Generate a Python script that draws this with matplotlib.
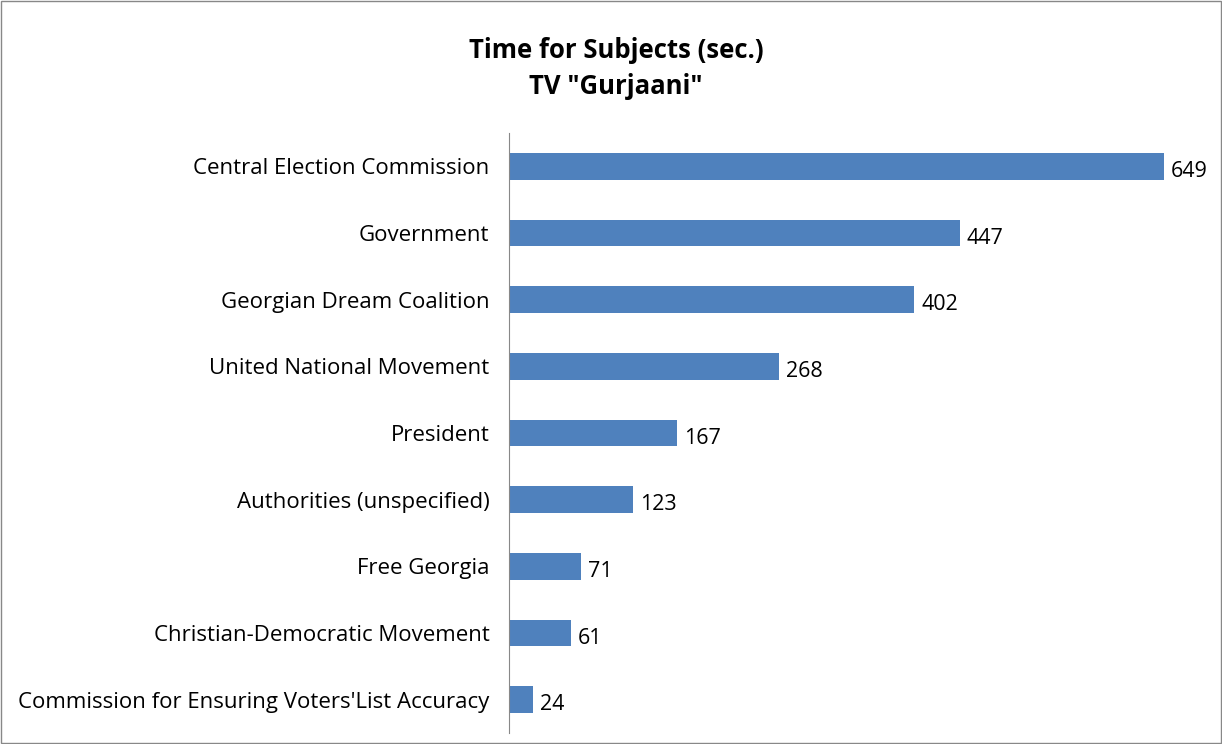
import matplotlib.pyplot as plt
from matplotlib.patches import Rectangle

plt.rcParams['font.family'] = ['Open Sans', 'DejaVu Sans']

subjects = ["Central Election Commission", "Government", "Georgian Dream Coalition",
            "United National Movement", "President", "Authorities (unspecified)",
            "Free Georgia", "Christian-Democratic Movement",
            "Commission for Ensuring Voters'List Accuracy"]
seconds = [649, 447, 402, 268, 167, 123, 71, 61, 24]

fig = plt.figure(figsize=(12.22, 7.44), dpi=100)
ax = fig.add_axes([509/1222, 11/744, 706/1222, 600/744])

y = list(range(len(subjects)))
ax.barh(y, seconds, height=0.4, color='#4F81BD')
for yi, v in zip(y, seconds):
    ax.text(v + 7, yi + 0.08, str(v), va='center', ha='left', fontsize=15.5)

ax.set_yticks(y)
ax.set_yticklabels(subjects, fontsize=16)
ax.set_ylim(len(subjects) - 0.5, -0.5)
ax.set_xlim(0, 700)
ax.set_xticks([])
ax.tick_params(axis='y', length=0, pad=14)
for s in ['top', 'right', 'bottom']:
    ax.spines[s].set_visible(False)
ax.spines['left'].set_color('#888888')

fig.text(0.504, 1 - 50/744, 'Time for Subjects (sec.)', ha='center', va='center',
         fontsize=18.5, fontweight='bold')
fig.text(0.504, 1 - 86/744, 'TV "Gurjaani"', ha='center', va='center',
         fontsize=18.5, fontweight='bold')

fig.patches.append(Rectangle((0.001, 0.001), 0.998, 0.998, transform=fig.transFigure,
                             fill=False, edgecolor='#888888', linewidth=1))

fig.savefig('out.png', dpi=100)
